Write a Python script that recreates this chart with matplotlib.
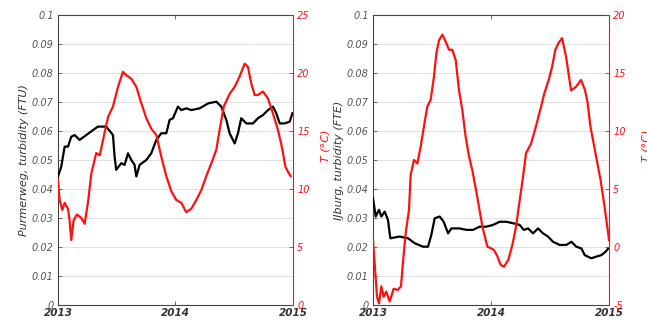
import matplotlib
matplotlib.use("Agg")
import matplotlib.pyplot as plt

# Purmerweg: turbidity (FTU) and temperature (deg C), time in decimal years
pm_turb_t = [2013.000, 2013.028, 2013.057, 2013.085, 2013.113, 2013.142, 2013.184, 2013.241, 2013.298,
             2013.340, 2013.411, 2013.468, 2013.482, 2013.496, 2013.539, 2013.567, 2013.596, 2013.624,
             2013.652, 2013.667, 2013.695, 2013.752, 2013.794, 2013.837, 2013.879, 2013.922, 2013.950,
             2013.979, 2014.021, 2014.050, 2014.092, 2014.135, 2014.206, 2014.277, 2014.348, 2014.390,
             2014.433, 2014.461, 2014.504, 2014.532, 2014.560, 2014.603, 2014.660, 2014.702, 2014.745,
             2014.787, 2014.830, 2014.858, 2014.887, 2014.929, 2014.972, 2014.995]
pm_turb = [0.0443, 0.0477, 0.0546, 0.0546, 0.0580, 0.0586, 0.0569, 0.0586, 0.0603, 0.0615, 0.0615,
           0.0586, 0.0511, 0.0466, 0.0489, 0.0483, 0.0523, 0.0500, 0.0483, 0.0443, 0.0483, 0.0500,
           0.0523, 0.0569, 0.0592, 0.0592, 0.0638, 0.0644, 0.0684, 0.0672, 0.0678, 0.0672, 0.0678,
           0.0695, 0.0701, 0.0684, 0.0638, 0.0592, 0.0557, 0.0592, 0.0644, 0.0626, 0.0626, 0.0644,
           0.0655, 0.0672, 0.0684, 0.0661, 0.0626, 0.0626, 0.0632, 0.0661]

pm_temp_t = [2013.000, 2013.014, 2013.037, 2013.057, 2013.085, 2013.099, 2013.113, 2013.133, 2013.161,
             2013.199, 2013.227, 2013.255, 2013.284, 2013.326, 2013.355, 2013.383, 2013.426, 2013.468,
             2013.511, 2013.553, 2013.582, 2013.624, 2013.667, 2013.709, 2013.752, 2013.794, 2013.837,
             2013.879, 2013.922, 2013.965, 2014.007, 2014.050, 2014.092, 2014.135, 2014.177, 2014.220,
             2014.262, 2014.305, 2014.348, 2014.376, 2014.411, 2014.461, 2014.504, 2014.546, 2014.589,
             2014.617, 2014.645, 2014.674, 2014.702, 2014.745, 2014.787, 2014.830, 2014.872, 2014.906,
             2014.936, 2014.957, 2014.980]
pm_temp = [10.8, 9.05, 8.2, 8.8, 8.3, 7.3, 5.6, 7.3, 7.8, 7.5, 7.0, 8.8, 11.35, 13.1, 12.9, 14.2, 16.2,
           17.1, 18.8, 20.1, 19.8, 19.5, 18.8, 17.4, 16.1, 15.2, 14.65, 12.8, 11.1, 9.8, 9.05, 8.8,
           8.0, 8.3, 9.05, 9.9, 11.1, 12.2, 13.4, 15.1, 17.1, 18.2, 18.8, 19.7, 20.8, 20.5, 19.1,
           18.1, 18.1, 18.4, 17.8, 16.5, 15.1, 13.6, 11.9, 11.5, 11.1]

# IJburg: turbidity (FTE) and temperature (deg C)
ij_turb_t = [2013.000, 2013.023, 2013.051, 2013.071, 2013.099, 2013.127, 2013.147, 2013.226, 2013.297,
             2013.353, 2013.424, 2013.466, 2013.494, 2013.523, 2013.565, 2013.599, 2013.636, 2013.664,
             2013.734, 2013.791, 2013.847, 2013.904, 2013.960, 2014.017, 2014.073, 2014.130, 2014.186,
             2014.243, 2014.277, 2014.314, 2014.356, 2014.398, 2014.441, 2014.483, 2014.525, 2014.582,
             2014.638, 2014.681, 2014.723, 2014.766, 2014.794, 2014.850, 2014.893, 2014.935, 2014.972,
             2014.994]
ij_turb = [0.0368, 0.0305, 0.0328, 0.0305, 0.0322, 0.0293, 0.0230, 0.0236, 0.0230, 0.0213, 0.0201,
           0.0201, 0.0241, 0.0299, 0.0305, 0.0287, 0.0247, 0.0264, 0.0264, 0.0259, 0.0259, 0.0270,
           0.0270, 0.0276, 0.0287, 0.0287, 0.0282, 0.0276, 0.0259, 0.0264, 0.0247, 0.0264, 0.0247,
           0.0236, 0.0218, 0.0207, 0.0207, 0.0218, 0.0201, 0.0195, 0.0172, 0.0161, 0.0167, 0.0172,
           0.0184, 0.0195]

ij_temp_t = [2013.000, 2013.014, 2013.034, 2013.051, 2013.071, 2013.090, 2013.113, 2013.141, 2013.175,
             2013.209, 2013.237, 2013.256, 2013.277, 2013.305, 2013.319, 2013.347, 2013.376, 2013.404,
             2013.432, 2013.460, 2013.489, 2013.517, 2013.537, 2013.559, 2013.588, 2013.616, 2013.644,
             2013.672, 2013.701, 2013.729, 2013.757, 2013.785, 2013.814, 2013.842, 2013.884, 2013.927,
             2013.969, 2013.997, 2014.025, 2014.054, 2014.082, 2014.110, 2014.147, 2014.184, 2014.212,
             2014.240, 2014.268, 2014.297, 2014.339, 2014.381, 2014.424, 2014.452, 2014.489, 2014.517,
             2014.545, 2014.573, 2014.602, 2014.636, 2014.678, 2014.720, 2014.763, 2014.797, 2014.819,
             2014.842, 2014.885, 2014.928, 2014.962, 2014.985, 2015.000]
ij_temp = [0.6, -1.4, -4.3, -4.86, -3.4, -4.3, -3.85, -4.7, -3.6, -3.7, -3.4, -1.1, 1.2, 3.2, 6.2, 7.5,
           7.2, 8.65, 10.4, 12.1, 12.7, 14.7, 16.7, 17.8, 18.3, 17.7, 17.0, 17.0, 16.1, 13.5, 11.8, 9.5,
           7.8, 6.6, 4.3, 1.75, 0.03, -0.1, -0.26, -0.8, -1.55, -1.7, -1.1, 0.3, 1.75, 3.8, 5.8, 8.1,
           8.9, 10.4, 12.1, 13.25, 14.4, 15.5, 17.0, 17.6, 18.0, 16.4, 13.5, 13.8, 14.4, 13.5, 12.4,
           10.4, 8.1, 5.8, 3.5, 1.75, 0.6]

years = [2013, 2014, 2015]
turb_ticks = [0, 0.01, 0.02, 0.03, 0.04, 0.05, 0.06, 0.07, 0.08, 0.09, 0.1]
turb_labels = ["0", "0.01", "0.02", "0.03", "0.04", "0.05", "0.06", "0.07", "0.08", "0.09", "0.1"]

RED = "#ff1010"
GREY = "#555555"

fig = plt.figure(figsize=(6.47, 3.27), dpi=100)


def panel(rect, t1, y1, t2, y2, ylabel, tlim, tticks, tpad):
    ax = fig.add_axes(rect)
    ax.plot(t1, y1, color="black", lw=1.6, zorder=3)
    ax.set_xlim(2013, 2015)
    ax.set_ylim(0, 0.1)
    ax.set_yticks(turb_ticks)
    ax.set_yticklabels(turb_labels, fontsize=7, style="italic", color=GREY)
    ax.set_xticks(years)
    ax.set_xticklabels([str(y) for y in years], fontsize=7.5, style="italic", fontweight="bold", color="#333333")
    ax.tick_params(axis="both", direction="in", length=3, width=0.6, top=True, color=GREY)
    ax.tick_params(axis="x", pad=2)
    ax.tick_params(axis="y", pad=3)
    ax.grid(True, axis="y", color="#dcdcdc", lw=0.6)
    ax.set_axisbelow(True)
    ax.set_ylabel(ylabel, fontsize=8, style="italic", color="#333333", labelpad=2)
    for s in ("left", "top", "bottom"):
        ax.spines[s].set_color("#444444")
        ax.spines[s].set_linewidth(0.8)
    ax.spines["right"].set_visible(False)

    ax2 = ax.twinx()
    ax2.plot(t2, y2, color=RED, lw=1.6, zorder=3)
    ax2.set_ylim(*tlim)
    ax2.set_yticks(tticks)
    ax2.set_yticklabels([str(v) for v in tticks], fontsize=7, style="italic", color=RED)
    ax2.tick_params(axis="y", direction="in", length=3, width=0.6, color=RED, pad=3)
    ax2.spines["right"].set_color(RED)
    ax2.spines["right"].set_linewidth(0.8)
    for s in ("left", "top", "bottom"):
        ax2.spines[s].set_visible(False)
    ax2.set_ylabel("T (°C)", fontsize=8, style="italic", color=RED, labelpad=tpad)
    ax2.yaxis.set_label_coords(1.0 + (tpad + 16) / (rect[2] * 647), 0.55)
    return ax, ax2


panel([0.0896, 0.0673, 0.3632, 0.887], pm_turb_t, pm_turb, pm_temp_t, pm_temp,
      "Purmerweg, turbidity (FTU)", (0, 25), [0, 5, 10, 15, 20, 25], 12)
panel([0.5765, 0.0673, 0.3648, 0.887], ij_turb_t, ij_turb, ij_temp_t, ij_temp,
      "IJburg, turbidity (FTE)", (-5, 20), [-5, 0, 5, 10, 15, 20], 16)

fig.savefig("out.png", dpi=100)
